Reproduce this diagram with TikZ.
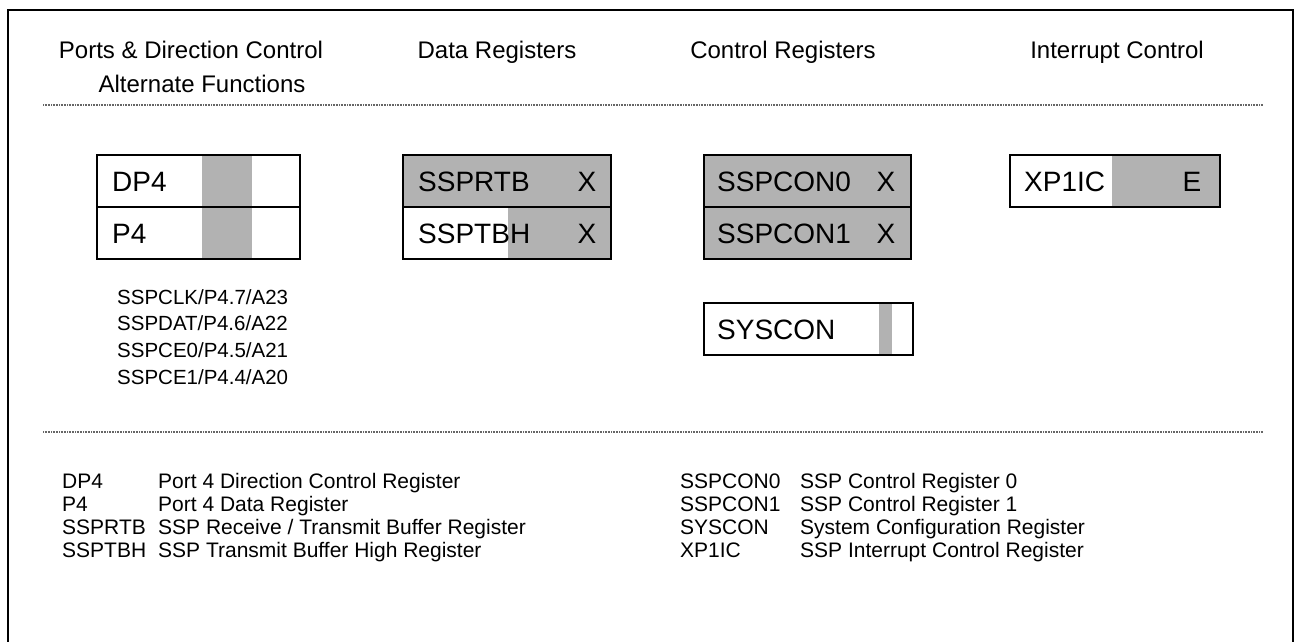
\documentclass[tikz,border=0pt]{standalone}
\usepackage{fontspec}
\setmainfont{Liberation Sans}
\begin{document}
\begin{tikzpicture}[x=1pt,y=-1pt,
  frame/.style={line width=2.8pt},
  sep/.style={line width=2pt,black!60,dash pattern=on 1pt off 0.6pt},
  regbox/.style={line width=2.8pt},
  shade/.style={fill=black!30},
  head/.style={inner sep=0pt,text height=17.2pt,text depth=0pt,font=\fontsize{24}{28}\selectfont},
  regtxt/.style={inner sep=0pt,text height=20.1pt,text depth=0pt,font=\fontsize{28}{32}\selectfont,anchor=west},
  bit/.style={inner sep=0pt,text height=20.1pt,text depth=0pt,font=\fontsize{28}{32}\selectfont},
  alt/.style={inner sep=0pt,text height=14.7pt,text depth=0pt,font=\fontsize{20.5}{24}\selectfont,anchor=west},
  leg/.style={inner sep=0pt,text height=15pt,text depth=0pt,font=\fontsize{21}{25}\selectfont,anchor=west}]
\useasboundingbox (0,0) rectangle (1297,641);
% outer frame (open at bottom)
\draw[frame] (8,650) -- (8,10) -- (1293,10) -- (1293,650);
% headers
\node[head] (h1) at (191,50) {Ports \& Direction Control};
\node[head] (h1b) at (202,84) {Alternate Functions};
\node[head] (h2) at (497,50) {Data Registers};
\node[head] (h3) at (783,50) {Control Registers};
\node[head] (h4) at (1117,50) {Interrupt Control};
% separators
\draw[sep] (43,105) -- (1263,105);
\draw[sep] (43,432) -- (1263,432);
% DP4 / P4
\fill[shade] (202,155) rectangle (252,259);
\draw[regbox] (97,155) rectangle (300,259);
\draw[regbox] (97,207) -- (300,207);
\node[regtxt] (dp4) at (112,181) {DP4};
\node[regtxt] (p4) at (112,233) {P4};
% SSPRTB / SSPTBH
\fill[shade] (403,155) rectangle (611,207);
\fill[shade] (508,207) rectangle (611,259);
\draw[regbox] (403,155) rectangle (611,259);
\draw[regbox] (403,207) -- (611,207);
\node[regtxt] (ssprtb) at (418,181) {SSPRTB};
\node[bit] (ssprtbx) at (587,181) {X};
\node[regtxt] (ssptbh) at (418,233) {SSPTBH};
\node[bit] (ssptbhx) at (587,233) {X};
% SSPCON0 / SSPCON1
\fill[shade] (704,155) rectangle (911,259);
\draw[regbox] (704,155) rectangle (911,259);
\draw[regbox] (704,207) -- (911,207);
\node[regtxt] (sspcon0) at (717,181) {SSPCON0};
\node[bit] (sspcon0x) at (886,181) {X};
\node[regtxt] (sspcon1) at (717,233) {SSPCON1};
\node[bit] (sspcon1x) at (886,233) {X};
% SYSCON
\fill[shade] (879,303) rectangle (892,355);
\draw[regbox] (704,303) rectangle (913,355);
\node[regtxt] (syscon) at (717,329) {SYSCON};
% XP1IC
\fill[shade] (1112,155) rectangle (1220,207);
\draw[regbox] (1010,155) rectangle (1220,207);
\node[regtxt] (xp1ic) at (1024,181) {XP1IC};
\node[bit] (xp1ice) at (1192,181) {E};
% alternate functions
\node[alt] (a1) at (117,297) {SSPCLK/P4.7/A23};
\node[alt] (a2) at (117,323) {SSPDAT/P4.6/A22};
\node[alt] (a3) at (117,350) {SSPCE0/P4.5/A21};
\node[alt] (a4) at (117,377) {SSPCE1/P4.4/A20};
% legend
\node[leg] (l1) at (62,481) {DP4};
\node[leg] (l1d) at (158,481) {Port 4 Direction Control Register};
\node[leg] (l2) at (62,504) {P4};
\node[leg] (l2d) at (158,504) {Port 4 Data Register};
\node[leg] (l3) at (62,527) {SSPRTB};
\node[leg] (l3d) at (158,527) {SSP Receive / Transmit Buffer Register};
\node[leg] (l4) at (62,550) {SSPTBH};
\node[leg] (l4d) at (158,550) {SSP Transmit Buffer High Register};
\node[leg] (r1) at (680,481) {SSPCON0};
\node[leg] (r1d) at (800,481) {SSP Control Register 0};
\node[leg] (r2) at (680,504) {SSPCON1};
\node[leg] (r2d) at (800,504) {SSP Control Register 1};
\node[leg] (r3) at (680,527) {SYSCON};
\node[leg] (r3d) at (800,527) {System Configuration Register};
\node[leg] (r4) at (680,550) {XP1IC};
\node[leg] (r4d) at (800,550) {SSP Interrupt Control Register};
\end{tikzpicture}
\end{document}
